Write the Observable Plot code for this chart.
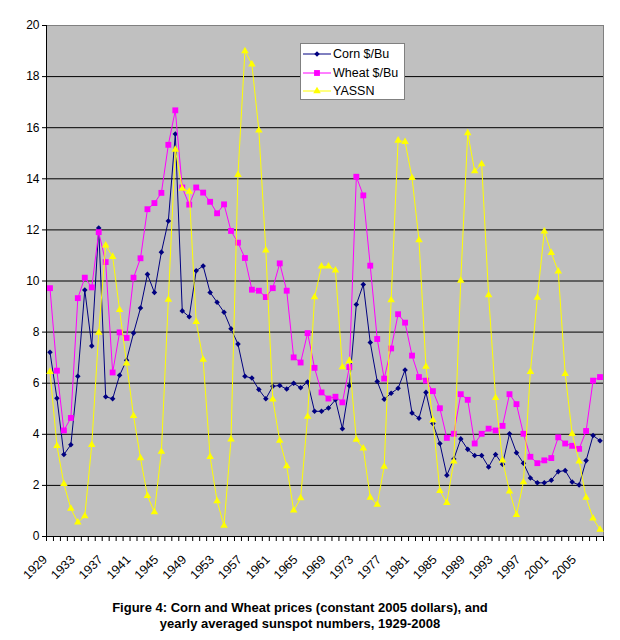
<!DOCTYPE html>
<html><head><meta charset="utf-8">
<script src="https://cdn.jsdelivr.net/npm/d3@7"></script>
<script src="https://cdn.jsdelivr.net/npm/@observablehq/plot@0.6"></script>
<style>
body{margin:0;background:#fff;font-family:Arial,"Liberation Sans",sans-serif;}
#wrap{position:relative;width:620px;}
#legend{position:absolute;left:300px;top:43px;width:105px;height:57px;background:#fff;border:1px solid #808080;box-sizing:border-box;font-size:12.5px;padding-top:1px;}
.row{display:flex;align-items:center;height:18.5px;}
.row svg{margin-left:2px;margin-right:2px;}
#caption{text-align:center;font-weight:bold;font-size:13px;line-height:16px;width:600px;margin-top:10px;color:#000;}
</style></head><body>
<div id="wrap"><div id="chart"></div><div id="legend"></div><div id="caption"></div></div>
<script>
const years = d3.range(1929, 2009);
const corn = [7.21,5.41,3.21,3.59,6.27,9.65,7.46,12.07,5.47,5.39,
6.31,6.90,7.96,8.94,10.26,9.55,11.13,12.35,15.75,8.83,
8.60,10.40,10.59,9.55,9.17,8.78,8.13,7.53,6.27,6.20,
5.75,5.39,5.88,5.91,5.77,6.00,5.82,6.05,4.90,4.90,
5.03,5.35,4.22,5.90,9.08,9.86,7.59,6.07,5.37,5.61,
5.80,6.52,4.83,4.63,5.64,4.42,3.64,2.40,3.03,3.82,
3.41,3.17,3.17,2.72,3.21,2.83,4.02,3.28,2.87,2.29,
2.10,2.10,2.20,2.54,2.58,2.13,2.02,2.97,3.95,3.75];
const wheat = [9.72,6.49,4.15,4.64,9.33,10.13,9.75,11.91,10.74,6.42,
7.99,7.77,10.13,10.89,12.81,13.05,13.45,15.33,16.68,13.66,
12.99,13.66,13.46,13.10,12.65,13.00,11.96,11.50,10.90,9.66,
9.62,9.37,9.72,10.69,9.62,7.01,6.81,7.96,6.60,5.64,
5.40,5.47,5.25,6.63,14.08,13.35,10.60,7.73,6.18,7.36,
8.70,8.37,7.08,6.24,6.10,5.69,5.02,3.86,4.02,5.57,
5.35,3.64,4.02,4.22,4.15,4.33,5.57,5.18,4.02,3.12,
2.87,2.98,3.07,3.88,3.64,3.55,3.43,4.13,6.10,6.24];
const yassn = [6.45,3.55,2.06,1.09,0.55,0.80,3.59,7.98,11.40,10.95,
8.87,6.78,4.72,3.07,1.59,0.96,3.32,9.27,15.14,13.62,
13.50,8.40,6.92,3.12,1.39,0.43,3.80,14.16,19.00,18.48,
15.90,11.20,5.37,3.75,2.76,1.02,1.50,4.69,9.37,10.57,
10.57,10.42,6.63,6.88,3.79,3.45,1.52,1.25,2.74,9.25,
15.50,15.45,14.04,11.60,6.65,4.56,1.79,1.32,2.94,10.02,
15.79,14.30,14.58,9.45,5.43,2.98,1.77,0.85,2.13,6.45,
9.35,11.94,11.10,10.38,6.37,4.02,2.94,1.52,0.71,0.27];
const tickYears = [1929,1933,1937,1941,1945,1949,1953,1957,1961,1965,1969,1973,1977,1981,1985,1989,1993,1997,2001,2005];
const yTicks = [0,2,4,6,8,10,12,14,16,18,20];
const seriesNames = ["Corn $/Bu","Wheat $/Bu","YASSN"];
const seriesColors = ["#000080","#FF00FF","#FFFF00"];
const seriesSymbols = ["diamond2","square","triangle"];
const seriesR = [2.5,3.3,2.8];
const captionLines = ["Figure 4: Corn and Wheat prices (constant 2005 dollars), and","yearly averaged sunspot numbers, 1929-2008"];

const seriesData = [corn, wheat, yassn].map(vals => years.map((y,i)=>({year:y, value:vals[i]})));
const xDomain = [years[0]-0.5, years[years.length-1]+0.5];
const boundaries = years.map(y=>y-0.5).concat([xDomain[1]]);

const marks = [
  Plot.frame({fill:"#C0C0C0"}),
  Plot.gridY(yTicks.slice(1), {stroke:"#000", strokeOpacity:1, strokeWidth:1}),
  Plot.frame({stroke:"#808080"}),
  Plot.ruleY([0], {stroke:"#000"}),
  Plot.ruleX([xDomain[0]], {stroke:"#000"}),
  Plot.axisY(yTicks, {tickSize:4, tickPadding:3, label:null, fontSize:12}),
  Plot.axisX(boundaries, {tickSize:5, tickFormat:()=>"", label:null}),
  Plot.axisX(tickYears, {tickSize:0, tickPadding:21, dx:-5, tickRotate:-45, tickFormat:d=>String(d), label:null, fontSize:12.5})
];
seriesData.forEach((d,k)=>{
  marks.push(Plot.line(d, {x:"year", y:"value", stroke:seriesColors[k], strokeWidth:1}));
  marks.push(Plot.dot(d, {x:"year", y:"value", symbol:()=>seriesSymbols[k], fill:seriesColors[k], r:seriesR[k], stroke:"none"}));
});

const chart = Plot.plot({
  width:620, height:590,
  marginLeft:46, marginRight:17, marginTop:25, marginBottom:54,
  style:{fontFamily:"Arial, 'Liberation Sans', sans-serif", fontSize:"12px", color:"#000", background:"#fff"},
  x:{domain:xDomain},
  y:{domain:[yTicks[0], yTicks[yTicks.length-1]]},
  symbol:{type:"identity"},
  marks
});
document.getElementById("chart").appendChild(chart);

// legend
const leg = d3.select("#legend");
seriesNames.forEach((name,k)=>{
  const row = leg.append("div").attr("class","row");
  const svg = row.append("svg").attr("width",28).attr("height",12);
  svg.append("line").attr("x1",0).attr("x2",28).attr("y1",6).attr("y2",6).attr("stroke",seriesColors[k]).attr("stroke-width",1);
  const sym = {diamond2:d3.symbolDiamond2, square:d3.symbolSquare, triangle:d3.symbolTriangle}[seriesSymbols[k]];
  svg.append("path").attr("d", d3.symbol(sym, Math.PI*seriesR[k]*seriesR[k])()).attr("transform","translate(14,6)").attr("fill",seriesColors[k]);
  row.append("span").text(name);
});
d3.select("#caption").selectAll("div").data(captionLines).join("div").text(d=>d);
</script>
</body></html>
